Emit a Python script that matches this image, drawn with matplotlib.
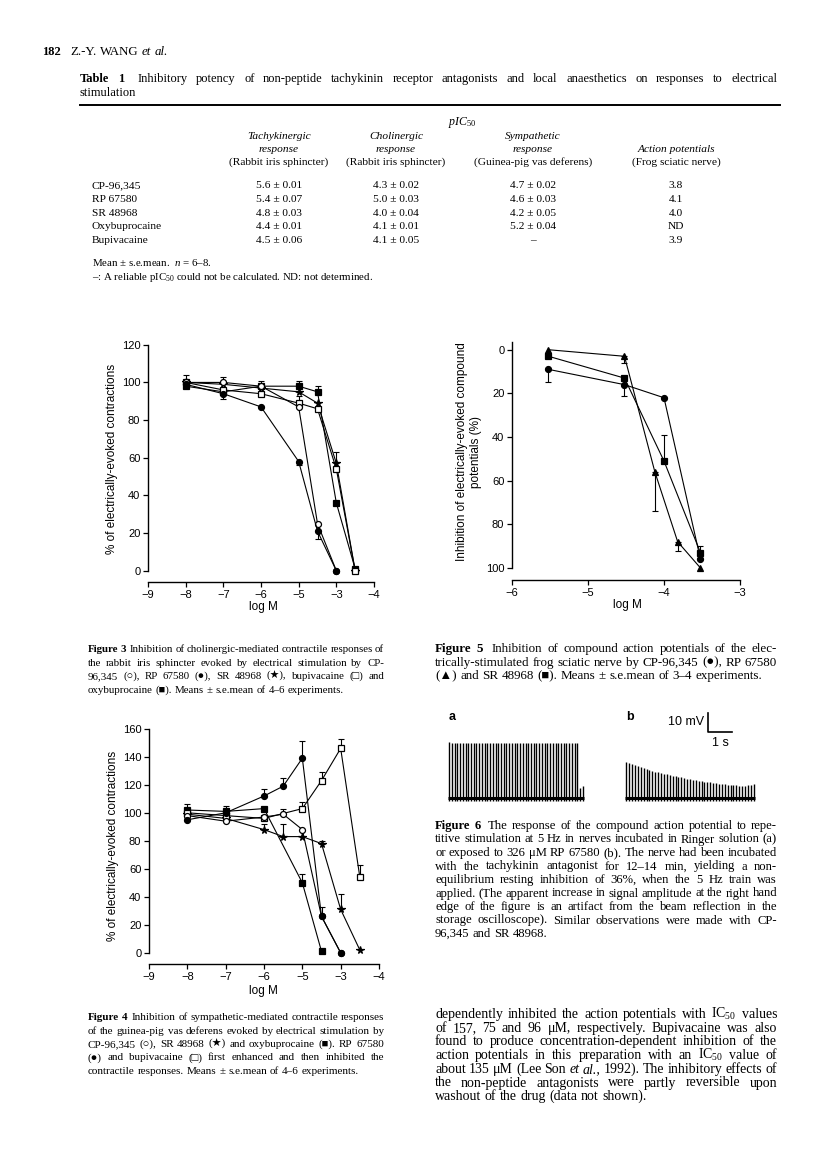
import numpy as np
import matplotlib
matplotlib.use('Agg')
import matplotlib.pyplot as plt
from matplotlib.lines import Line2D

W, H = 816, 1176
SERIF = ['Liberation Serif', 'DejaVu Serif', 'DejaVu Sans']
SANS = ['Liberation Sans', 'DejaVu Sans']
plt.rcParams['font.family'] = SERIF
plt.rcParams['mathtext.fontset'] = 'custom'
plt.rcParams['mathtext.rm'] = 'Liberation Serif'
plt.rcParams['mathtext.it'] = 'Liberation Serif:italic'

# ---- Table 1 values
drugs = ['CP-96,345', 'RP 67580', 'SR 48968', 'Oxybuprocaine', 'Bupivacaine']
tachykinergic = ['5.6 ± 0.01', '5.4 ± 0.07', '4.8 ± 0.03', '4.4 ± 0.01', '4.5 ± 0.06']
cholinergic = ['4.3 ± 0.02', '5.0 ± 0.03', '4.0 ± 0.04', '4.1 ± 0.01', '4.1 ± 0.05']
sympathetic = ['4.7 ± 0.02', '4.6 ± 0.03', '4.2 ± 0.05', '5.2 ± 0.04', '–']
action_pot = ['3.8', '4.1', '4.0', 'ND', '3.9']

# ---- Figure 3 (cholinergic, rabbit iris sphincter), log M vs % contraction
f3_x = [-8, -7, -6, -5, -4.5, -4, -3.5]
f3_cp = [100, 100, 98, 87, 25, 0]
f3_cp_err = [4, 3, 0, 0, 0, 0]
f3_rp = [99, 94, 87, 58, 21, 0]
f3_rp_err = [0, -3, 0, -2, -4, 0]
f3_sr = [100, 99, 97, 95, 89, 57, 0]
f3_sr_err = [0, 0, 0, 2, 0, 6, 0]
f3_bupi = [100, 96, 94, 89, 86, 54, 0]
f3_bupi_err = [0, 0, 0, 4, 0, 4, 0]
f3_oxy = [98, 95, 98, 98, 95, 36, 1]
f3_oxy_err = [0, 0, 3, 3, 3, 0, 0]
f3_xticklabels = ['−9', '−8', '−7', '−6', '−5', '−3', '−4']

# ---- Figure 5 (frog sciatic nerve), inhibition %
f5_x = [-5.52, -4.52, -4.0, -3.52]
f5_x_rp = [-5.52, -4.52, -4.12, -3.82, -3.52]
f5_cp = [9, 16, 22, 96]
f5_cp_err = [6, 5, 0, 0]
f5_rp = [0, 3, 56, 88, 100]
f5_rp_err = [0, 3, 18, 4, 0]
f5_sr = [3, 13, 51, 93]
f5_sr_err = [0, 3, -12, -3]

# ---- Figure 4 (sympathetic, guinea-pig vas deferens)
f4_x = [-8, -7, -6, -5.5, -5, -4.5, -4, -3.5]
f4_cp = [98, 94, 97, 99, 88, 26, 0]
f4_cp_err = [0, 0, 0, 4, 0, 0, 0]
f4_sr = [99, 96, 88, 83, 83, 78, 31, 2]
f4_sr_err = [0, 0, 4, 9, 0, 2, 11, 0]
f4_rp = [95, 100, 112, 119, 139, 26, 0]
f4_rp_err = [0, 0, 5, 6, 12, 7, 0]
f4_bupi_x = [-8, -7, -6, -5, -4.5, -4, -3.5]
f4_bupi = [100, 98, 96, 103, 123, 146, 54]
f4_bupi_err = [0, 0, 0, 5, 6, 7, 9]
f4_oxy_x = [-8, -7, -6, -5, -4.5]
f4_oxy = [102, 101, 103, 50, 1]
f4_oxy_err = [4, 4, 0, 6, 0]

# ---- Figure 6 spike amplitudes (mV), 5 Hz train
f6a_amp = [29.2, 29.0, 29.1, 28.9, 29.0, 29.1, 29.0, 28.9, 29.0, 29.1,
           29.0, 29.0, 28.9, 29.0, 29.1, 29.0, 28.9, 29.0, 29.0, 29.1,
           29.0, 28.9, 29.0, 29.0, 29.1, 29.0, 28.9, 29.0, 29.0, 29.1,
           29.0, 28.9, 29.0, 29.0, 29.0, 28.9, 29.0, 29.1, 29.0, 28.9,
           29.0, 29.0, 29.0, 28.9, 29.0, 29.0, 29.1, 29.0, 5.5, 6.5]
f6b_amp = [19.0, 18.3, 17.7, 17.1, 16.6, 16.1, 15.6, 15.2, 14.7, 14.3,
           13.9, 13.5, 13.1, 12.7, 12.4, 12.0, 11.7, 11.4, 11.1, 10.8,
           10.5, 10.2, 9.9, 9.6, 9.4, 9.1, 8.9, 8.6, 8.4, 8.2,
           8.0, 7.8, 7.6, 7.4, 7.2, 7.0, 6.9, 6.7, 6.6, 6.5,
           6.4, 6.4, 6.6, 7.0, 7.4]

fig = plt.figure(figsize=(W / 100, H / 100), dpi=100)
fig.patch.set_facecolor('white')
R = fig.canvas.get_renderer()


def put(x, y, s, size=8, ha='left', va='baseline', **kw):
    return fig.text(x / W, 1 - y / H, s, fontsize=size, ha=ha, va=va, **kw)


def word_widths(line, size, nbold, italic, family):
    ws = []
    for i, w in enumerate(line.split()):
        t = put(0, 0, w, size=size, family=family,
                fontweight='bold' if i < nbold else 'normal',
                fontstyle='italic' if w in italic else 'normal')
        ws.append(t.get_window_extent(R).width)
        t.remove()
    return ws


def justify(x0, x1, yc, line, size=7.8, nbold=0, italic=(), last=False, family=SERIF):
    words = line.split()
    arts = []
    for i, w in enumerate(words):
        t = put(0, yc + 3, w, size=size, family=family,
                fontweight='bold' if i < nbold else 'normal',
                fontstyle='italic' if w in italic else 'normal')
        arts.append(t)
    widths = [t.get_window_extent(R).width for t in arts]
    extra = 0.6 if (nbold and len(arts) > nbold) else 0
    if last or len(arts) == 1:
        gap = size * 0.26 * 100 / 72
    else:
        gap = (x1 - x0 - sum(widths)) / (len(arts) - 1 + extra)
    x = x0
    for i, (t, w) in enumerate(zip(arts, widths)):
        t.set_x(x / W)
        x += w + gap + (gap * extra if (nbold and i == nbold - 1) else 0)


def paragraph(x0, x1, y0, dy, lines, nbold=0, italic=(), family=SERIF, sp=0.24):
    # largest font size for which no full line overflows at normal word spacing
    full = lines[:-1] if len(lines) > 1 else lines
    sizes = []
    for i, ln in enumerate(full):
        nb = nbold if i == 0 else 0
        ws = word_widths(ln, 10, nb, italic, family)
        ngap = len(ws) - 1 + (0.6 if nb else 0)
        sizes.append((x1 - x0) / (sum(ws) / 10 + ngap * sp * 100 / 72))
    size = min(sizes)
    for i, ln in enumerate(lines):
        justify(x0, x1, y0 + i * dy, ln, size=size, nbold=nbold if i == 0 else 0,
                italic=italic, last=(i == len(lines) - 1), family=family)
    return size


def px_axes(x0, y0, x1, y1):
    return fig.add_axes([x0 / W, 1 - y1 / H, (x1 - x0) / W, (y1 - y0) / H])


def style_axes(ax, xt, xtl, yt, ybounds):
    for s in ('top', 'right'):
        ax.spines[s].set_visible(False)
    ax.spines['left'].set_bounds(*ybounds)
    for s in ('left', 'bottom'):
        ax.spines[s].set_linewidth(1.0)
    ax.set_xticks(xt)
    ax.set_xticklabels(xtl)
    ax.set_yticks(yt)
    ax.set_yticklabels([str(v) for v in yt])
    ax.tick_params(direction='out', length=3.5, width=0.9, labelsize=8, pad=2)
    for lab in ax.get_xticklabels() + ax.get_yticklabels():
        lab.set_family(SANS)
    ax.patch.set_visible(False)


def series(ax, x, y, err, marker, filled, ms=4.3):
    x = np.asarray(x[:len(y)], float)
    y = np.asarray(y, float)
    e = np.asarray(err, float)
    m = e != 0
    lo = np.where(e < 0, -e, 0)[m]
    hi = np.where(e > 0, e, 0)[m]
    if m.any():
        ax.errorbar(x[m], y[m], yerr=[lo, hi], fmt='none', ecolor='black',
                    elinewidth=0.8, capsize=2, capthick=0.8, clip_on=False)
    ax.plot(x, y, color='black', lw=0.8, marker=marker, ms=ms,
            mfc='black' if filled else 'white', mec='black', mew=0.9, clip_on=False)


# ---------------- page header and table
put(42, 55, '182', size=9, fontweight='bold')
justify(70, 200, 52, 'Z.-Y. WANG et al.', size=9.3, italic=('et', 'al.'), last=True)

justify(80, 777, 79, 'Table 1  Inhibitory potency of non-peptide tachykinin receptor antagonists and local anaesthetics on responses to electrical',
        size=9.0, nbold=2)
justify(80, 777, 93, 'stimulation', size=9.0, last=True)
fig.add_artist(Line2D([80 / W, 780 / W], [1 - 105 / H] * 2, color='black', lw=1.4, transform=fig.transFigure))

cols = [279, 396, 533, 676]
TS = 8.2
put(462, 125, r'$\mathit{pIC}_{50}$', size=8.6, ha='center')
head1 = ['Tachykinergic', 'Cholinergic', 'Sympathetic', '']
head2 = ['response', 'response', 'response', 'Action potentials']
head3 = ['(Rabbit iris sphincter)', '(Rabbit iris sphincter)', '(Guinea-pig vas deferens)', '(Frog sciatic nerve)']
for cx, a, b, c in zip(cols, head1, head2, head3):
    put(cx, 139, a, size=TS, ha='center', fontstyle='italic')
    put(cx, 152, b, size=TS, ha='center', fontstyle='italic')
    put(cx, 165, c, size=TS, ha='center')
for i, d in enumerate(drugs):
    yy = 188 + i * 13.8
    put(92, yy, d, size=TS)
    for cx, col in zip(cols, [tachykinergic, cholinergic, sympathetic, action_pot]):
        put(cx, yy, col[i], size=TS, ha='center')
put(92, 266, 'Mean ± s.e.mean.  ' + r'$n$' + ' = 6–8.', size=7.8)
put(92, 280, '–: A reliable pIC$_{50}$ could not be calculated. ND: not determined.', size=7.8)

# ---------------- Figure 3
ax3 = px_axes(148, 341, 374, 582)
ax3.set_xlim(-9, -3)
ax3.set_ylim(-6, 122)
style_axes(ax3, range(-9, -2), f3_xticklabels, range(0, 121, 20), (0, 120))
series(ax3, f3_x, f3_oxy, f3_oxy_err, 's', True)
series(ax3, f3_x, f3_sr, f3_sr_err, '*', True, ms=5.5)
series(ax3, f3_x, f3_bupi, f3_bupi_err, 's', False)
series(ax3, f3_x, f3_cp, f3_cp_err, 'o', False)
series(ax3, f3_x, f3_rp, f3_rp_err, 'o', True)
put(263, 610, 'log M', size=8.5, ha='center', family=SANS)
put(112, 459, '% of electrically-evoked contractions', size=8.5, ha='center', va='center',
    rotation=90, family=SANS)

# ---------------- Figure 5
ax5 = px_axes(512, 341, 740, 580)
ax5.set_xlim(-6, -3)
ax5.set_ylim(105.5, -4)
style_axes(ax5, range(-6, -2), ['−6', '−5', '−4', '−3'], range(0, 101, 20), (-3.5, 100))
series(ax5, f5_x, f5_sr, f5_sr_err, 's', True)
series(ax5, f5_x_rp, f5_rp, f5_rp_err, '^', True)
series(ax5, f5_x, f5_cp, f5_cp_err, 'o', True)
put(627, 608, 'log M', size=8.5, ha='center', family=SANS)
put(469, 452, 'Inhibition of electrically-evoked compound\npotentials (%)', size=8.5,
    ha='center', va='center', rotation=90, family=SANS, linespacing=1.15)

# ---------------- Figure 4
ax4 = px_axes(149, 726, 379, 964)
ax4.set_xlim(-9, -3)
ax4.set_ylim(-8, 162)
style_axes(ax4, range(-9, -2), f3_xticklabels, range(0, 161, 20), (0, 160))
series(ax4, f4_oxy_x, f4_oxy, f4_oxy_err, 's', True)
series(ax4, f4_x, f4_sr, f4_sr_err, '*', True, ms=5.5)
series(ax4, f4_bupi_x, f4_bupi, f4_bupi_err, 's', False)
series(ax4, f4_x, f4_cp, f4_cp_err, 'o', False)
series(ax4, f4_x, f4_rp, f4_rp_err, 'o', True)
put(263, 994, 'log M', size=8.5, ha='center', family=SANS)
put(113, 846, '% of electrically-evoked contractions', size=8.5, ha='center', va='center',
    rotation=90, family=SANS)

# ---------------- Figure 6 traces
for (x0, x1), amps, lab in [((447, 585), f6a_amp, 'a'), ((624, 756), f6b_amp, 'b')]:
    ax = px_axes(x0, 740, x1, 805)
    n = len(amps)
    t = np.arange(n)
    ax.vlines(t, -1.6, amps, color='black', lw=1.0)
    ax.hlines(0, -0.5, n - 0.5, color='black', lw=2.2)
    ax.set_xlim(-0.8, n - 0.2)
    ax.set_ylim(-3.7, 30.5)
    ax.axis('off')
    put(x0 + 2, 720, lab, size=9, fontweight='bold', family=SANS)
# scale bar
fig.add_artist(Line2D([708 / W, 708 / W, 732 / W], [1 - 713 / H, 1 - 732 / H, 1 - 732 / H],
                      color='black', lw=1.2, transform=fig.transFigure))
put(704, 725, '10 mV', size=9, ha='right', family=SANS)
put(720, 746, '1 s', size=9, ha='center', family=SANS)

# ---------------- captions
cap3 = ['Figure 3  Inhibition of cholinergic-mediated contractile responses of',
        'the rabbit iris sphincter evoked by electrical stimulation by CP-',
        '96,345 (○), RP 67580 (●), SR 48968 (★), bupivacaine (□) and',
        'oxybuprocaine (■). Means ± s.e.mean of 4–6 experiments.']
paragraph(88, 384, 649, 13.6, cap3, nbold=2)

cap5 = ['Figure 5  Inhibition of compound action potentials of the elec-',
        'trically-stimulated frog sciatic nerve by CP-96,345 (●), RP 67580',
        '(▲) and SR 48968 (■). Means ± s.e.mean of 3–4 experiments.']
paragraph(435, 777, 649, 13.6, cap5, nbold=2)

cap6 = ['Figure 6  The response of the compound action potential to repe-',
        'titive stimulation at 5 Hz in nerves incubated in Ringer solution (a)',
        'or exposed to 326 μM RP 67580 (b). The nerve had been incubated',
        'with the tachykinin antagonist for 12–14 min, yielding a non-',
        'equilibrium resting inhibition of 36%, when the 5 Hz train was',
        'applied. (The apparent increase in signal amplitude at the right hand',
        'edge of the figure is an artifact from the beam reflection in the',
        'storage oscilloscope). Similar observations were made with CP-',
        '96,345 and SR 48968.']
paragraph(435, 777, 826, 13.5, cap6, nbold=2)

cap4 = ['Figure 4  Inhibition of sympathetic-mediated contractile responses',
        'of the guinea-pig vas deferens evoked by electrical stimulation by',
        'CP-96,345 (○), SR 48968 (★) and oxybuprocaine (■). RP 67580',
        '(●) and bupivacaine (□) first enhanced and then inhibited the',
        'contractile responses. Means ± s.e.mean of 4–6 experiments.']
paragraph(88, 384, 1017, 13.5, cap4, nbold=2)

body = ['dependently inhibited the action potentials with IC$_{50}$ values',
        'of 157, 75 and 96 μM, respectively. Bupivacaine was also',
        'found to produce concentration-dependent inhibition of the',
        'action potentials in this preparation with an IC$_{50}$ value of',
        'about 135 μM (Lee Son et al., 1992). The inhibitory effects of',
        'the non-peptide antagonists were partly reversible upon',
        'washout of the drug (data not shown).']
paragraph(435, 777, 1015, 13.7, body, italic=('et', 'al.,'))

fig.savefig('out.png', dpi=100, facecolor='white')
